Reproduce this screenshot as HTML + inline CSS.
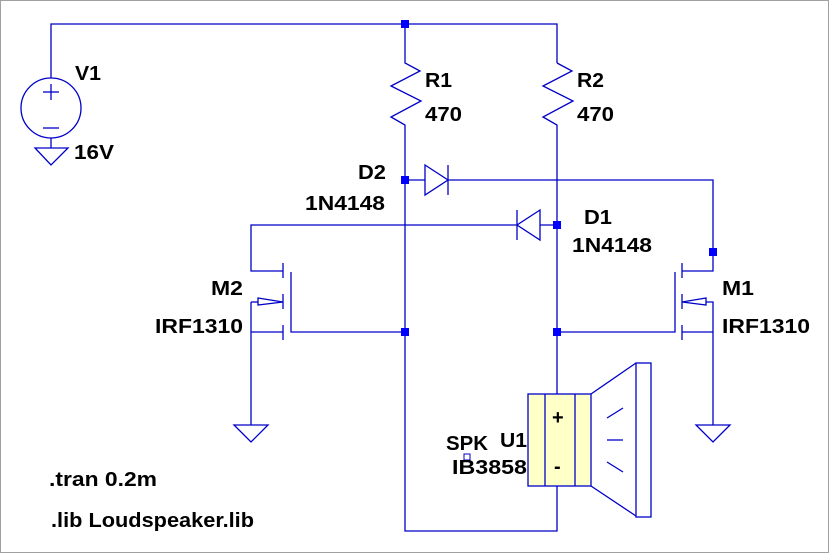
<!DOCTYPE html>
<html><head><style>
html,body{margin:0;padding:0;background:#fff;}
svg{display:block;}
text{font-family:"Liberation Sans",sans-serif;font-weight:bold;font-size:20px;fill:#000;}
</style></head><body>
<svg width="830" height="554" viewBox="0 0 830 554" xmlns="http://www.w3.org/2000/svg">
<rect x="0.5" y="0.5" width="828" height="552" fill="#fff" stroke="#a0a0a0"/>
<g stroke="#0000c8" stroke-width="1.3" fill="none">
<polyline points="51,78 51,24 557,24 557,63"/>
<circle cx="51" cy="108" r="30"/>
<line x1="43" y1="92" x2="59" y2="92"/><line x1="51" y1="84" x2="51" y2="100"/>
<line x1="43" y1="128" x2="59" y2="128"/>
<line x1="51" y1="138" x2="51" y2="148"/>
<polygon points="35,148 68,148 51,165"/>
<polyline points="405,24 405,63 420,71 391,86 421,101 391,117 405,125 405,531 557,531 557,486"/>
<polyline points="557,63 572,71 543,86 573,101 543,117 557,125 557,394"/>
<line x1="405" y1="180" x2="425" y2="180"/>
<polygon points="425,165 448,180 425,195"/>
<line x1="448" y1="165" x2="448" y2="195"/>
<polyline points="448,180 713,180 713,271 682,271"/>
<line x1="540" y1="225" x2="557" y2="225"/>
<polygon points="540,210 517,225 540,240"/>
<line x1="517" y1="210" x2="517" y2="240"/>
<polyline points="517,225 251,225 251,271 283,271"/>
<line x1="283" y1="263" x2="283" y2="278"/>
<line x1="283" y1="294" x2="283" y2="309"/>
<line x1="283" y1="325" x2="283" y2="340"/>
<polyline points="291,272 291,332 405,332"/>
<line x1="251" y1="332" x2="283" y2="332"/>
<polyline points="251,302 258,302"/>
<polygon points="258,298 258,305 283,302"/>
<line x1="251" y1="302" x2="251" y2="425"/>
<polygon points="234,425 268,425 251,442"/>
<line x1="682" y1="263" x2="682" y2="278"/>
<line x1="682" y1="294" x2="682" y2="309"/>
<line x1="682" y1="325" x2="682" y2="340"/>
<polyline points="675,272 675,332 557,332"/>
<line x1="682" y1="332" x2="713" y2="332"/>
<polyline points="706,302 713,302 713,425"/>
<polygon points="706,298 706,305 682,302"/>
<polygon points="696,425 730,425 713,442"/>
<rect x="528" y="394" width="63" height="92" fill="#ffffc8"/>
<line x1="545" y1="394" x2="545" y2="486"/>
<line x1="575" y1="394" x2="575" y2="486"/>
<line x1="591" y1="394" x2="636" y2="363"/>
<line x1="591" y1="486" x2="636" y2="516"/>
<rect x="636" y="363" width="15" height="154"/>
<line x1="607" y1="418" x2="623" y2="408"/>
<line x1="607" y1="440" x2="623" y2="440"/>
<line x1="607" y1="462" x2="623" y2="472"/>
<rect x="464" y="454" width="6" height="6" stroke-width="1"/>
</g>
<g fill="#0000ff">
<rect x="401" y="20" width="8" height="8"/>
<rect x="401" y="176" width="8" height="8"/>
<rect x="553" y="221" width="8" height="8"/>
<rect x="709" y="248" width="8" height="8"/>
<rect x="401" y="328" width="8" height="8"/>
<rect x="553" y="328" width="8" height="8"/>
</g>
<g lengthAdjust="spacingAndGlyphs">
<text x="75" y="80" textLength="26" lengthAdjust="spacingAndGlyphs">V1</text>
<text x="74" y="159" textLength="40" lengthAdjust="spacingAndGlyphs">16V</text>
<text x="425" y="87" textLength="27" lengthAdjust="spacingAndGlyphs">R1</text>
<text x="425" y="121" textLength="37" lengthAdjust="spacingAndGlyphs">470</text>
<text x="577" y="87" textLength="27" lengthAdjust="spacingAndGlyphs">R2</text>
<text x="577" y="121" textLength="37" lengthAdjust="spacingAndGlyphs">470</text>
<text x="358" y="179" textLength="28" lengthAdjust="spacingAndGlyphs">D2</text>
<text x="305" y="210" textLength="80" lengthAdjust="spacingAndGlyphs">1N4148</text>
<text x="584" y="224" textLength="28" lengthAdjust="spacingAndGlyphs">D1</text>
<text x="572" y="252" textLength="80" lengthAdjust="spacingAndGlyphs">1N4148</text>
<text x="211" y="295" textLength="32" lengthAdjust="spacingAndGlyphs">M2</text>
<text x="155" y="333" textLength="88" lengthAdjust="spacingAndGlyphs">IRF1310</text>
<text x="722" y="295" textLength="32" lengthAdjust="spacingAndGlyphs">M1</text>
<text x="722" y="333" textLength="88" lengthAdjust="spacingAndGlyphs">IRF1310</text>
<text x="446" y="450" textLength="42" lengthAdjust="spacingAndGlyphs">SPK</text>
<text x="500" y="447" textLength="27" lengthAdjust="spacingAndGlyphs">U1</text>
<text x="452" y="474" textLength="75" lengthAdjust="spacingAndGlyphs">IB3858</text>
<text x="552" y="424" font-size="22">+</text>
<text x="554" y="473">-</text>
<text x="49" y="486" textLength="108" lengthAdjust="spacingAndGlyphs">.tran 0.2m</text>
<text x="51" y="527" textLength="203" lengthAdjust="spacingAndGlyphs">.lib Loudspeaker.lib</text>
</g>
</svg>
</body></html>
